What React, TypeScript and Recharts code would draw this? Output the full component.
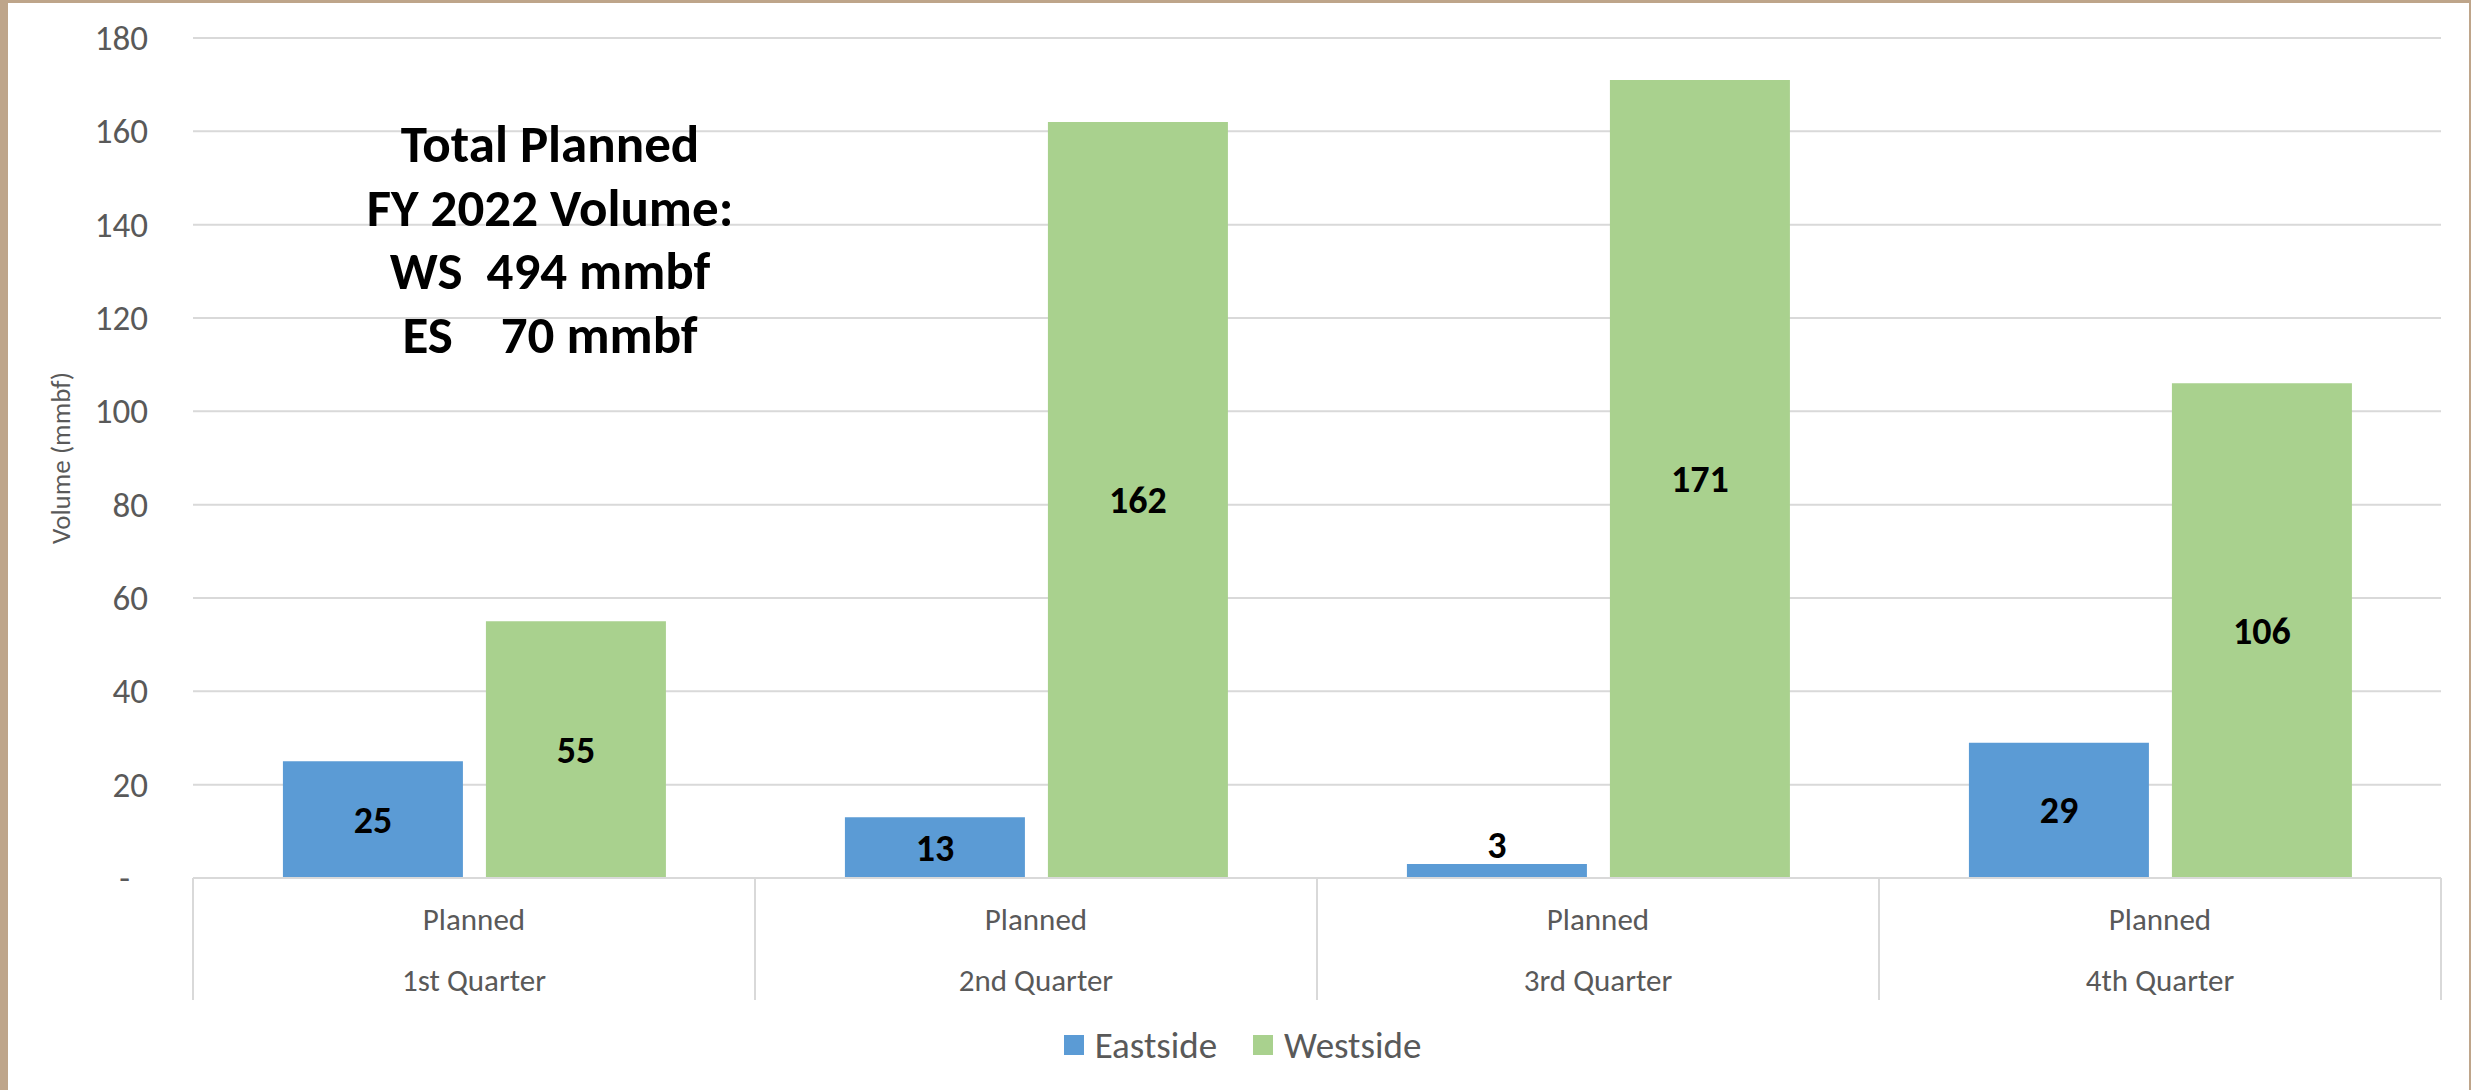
import React from "react";
import { BarChart, Bar, XAxis, YAxis, CartesianGrid, Legend, LabelList } from "recharts";

const QUARTERS = ["1st Quarter", "2nd Quarter", "3rd Quarter", "4th Quarter"];
const STAGES = ["Planned", "Planned", "Planned", "Planned"];
const EASTSIDE = [25, 13, 3, 29];
const WESTSIDE = [55, 162, 171, 106];
const Y_TICKS = [0, 20, 40, 60, 80, 100, 120, 140, 160, 180];
const NOTE_LINES = ["Total Planned", "FY 2022 Volume:", "WS  494 mmbf", "ES    70 mmbf"];

const W = 2471;
const H = 1090;
const FONT = "Carlito, 'Liberation Sans Narrow', 'Open Sans', sans-serif";
const GRAY = "#595959";
const GRID = "#D9D9D9";
const BLUE = "#5B9BD5";
const GREEN = "#A9D18E";
const MARGIN = { top: 38, right: 30, bottom: 15, left: 0 };
const Y_AXIS_W = 193;
const BAND = (W - MARGIN.right - Y_AXIS_W) / QUARTERS.length;

const data = QUARTERS.map((q, i) => ({
  quarter: q,
  stage: STAGES[i],
  Eastside: EASTSIDE[i],
  Westside: WESTSIDE[i],
}));

function XTick(props: any) {
  const { x, y, payload, index } = props;
  const half = BAND / 2;
  const last = index === QUARTERS.length - 1;
  return (
    <g>
      <line x1={x - half} x2={x - half} y1={y} y2={y + 122} stroke={GRID} strokeWidth={2} />
      {last && <line x1={x + half} x2={x + half} y1={y} y2={y + 122} stroke={GRID} strokeWidth={2} />}
      <text x={x} y={y + 41} textAnchor="middle" dominantBaseline="central"
        fill={GRAY} fontSize={31} fontFamily={FONT}>
        {STAGES[index]}
      </text>
      <text x={x} y={y + 102} textAnchor="middle" dominantBaseline="central"
        fill={GRAY} fontSize={31} fontFamily={FONT}>
        {payload.value}
      </text>
    </g>
  );
}

function YTick(props: any) {
  const { x, y, payload } = props;
  const zero = payload.value === 0;
  return (
    <text x={zero ? x - 18 : x} y={y} textAnchor="end" dominantBaseline="central"
      fill={GRAY} fontSize={35} fontFamily={FONT}>
      {zero ? "-" : payload.value}
    </text>
  );
}

function BarValue(props: any) {
  const { x, y, width, height, value } = props;
  const small = height < 45;
  return (
    <text x={x + width / 2} y={small ? y - 19 : y + height / 2} textAnchor="middle"
      dominantBaseline="central" fill="#000" fontSize={38} fontWeight="bold" fontFamily={FONT}>
      {value}
    </text>
  );
}

function LegendBox(props: any) {
  const items = props.payload || [];
  return (
    <div style={{ height: 60, display: "flex", justifyContent: "center", alignItems: "center",
      gap: 36, paddingLeft: 44 }}>
      {items.map((it: any) => (
        <div key={it.value} style={{ display: "flex", alignItems: "center", gap: 11 }}>
          <div style={{ width: 20, height: 20, background: it.color }} />
          <span style={{ fontFamily: FONT, fontSize: 37, color: GRAY }}>{it.value}</span>
        </div>
      ))}
    </div>
  );
}

export default function App() {
  return (
    <div style={{ position: "absolute", left: 0, top: 0, width: W, height: H, background: "#BEA58A" }}>
      <div style={{ position: "absolute", left: 8, top: 3, width: W - 10, height: H - 3, background: "#fff" }} />
      <div style={{ position: "absolute", left: 0, top: 0 }}>
        <BarChart width={W} height={H} data={data} margin={MARGIN} barCategoryGap="16%" barGap={23}>
          <CartesianGrid vertical={false} stroke={GRID} strokeWidth={2} />
          <XAxis dataKey="quarter" height={137} tick={<XTick />} tickLine={false} tickSize={0}
            tickMargin={0} interval={0} axisLine={{ stroke: GRID, strokeWidth: 2 }} />
          <YAxis width={Y_AXIS_W} domain={[0, 180]} ticks={Y_TICKS} tick={<YTick />}
            tickLine={false} tickSize={0} tickMargin={45} axisLine={false}
            label={{ value: "Volume (mmbf)", angle: -90, position: "insideLeft", offset: 60,
              style: { fill: GRAY, fontSize: 27, fontFamily: FONT, textAnchor: "middle" } }} />
          <Legend verticalAlign="bottom" content={<LegendBox />} />
          <Bar dataKey="Eastside" fill={BLUE} isAnimationActive={false}>
            <LabelList dataKey="Eastside" content={<BarValue />} />
          </Bar>
          <Bar dataKey="Westside" fill={GREEN} isAnimationActive={false}>
            <LabelList dataKey="Westside" content={<BarValue />} />
          </Bar>
        </BarChart>
      </div>
      <div style={{ position: "absolute", left: 350, top: 113, width: 400, textAlign: "center",
        fontFamily: FONT, fontWeight: "bold", fontSize: 53, lineHeight: "63.5px", color: "#000",
        whiteSpace: "pre" }}>
        {NOTE_LINES.map((l) => <div key={l}>{l}</div>)}
      </div>
    </div>
  );
}
